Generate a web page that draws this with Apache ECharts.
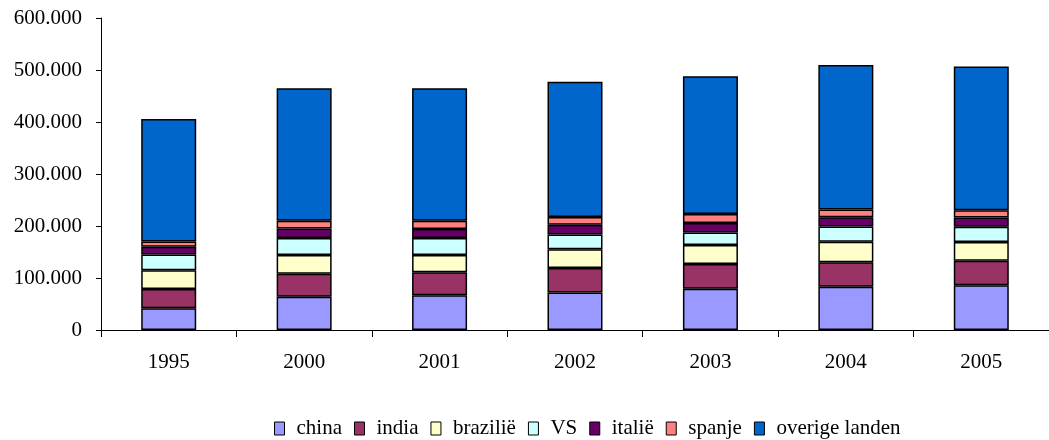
<!DOCTYPE html>
<html>
<head>
<meta charset="utf-8">
<script src="https://cdn.jsdelivr.net/npm/echarts@6/dist/echarts.min.js"></script>
<style>
html,body{margin:0;padding:0;background:#fff;}
#chart{width:1049px;height:440px;}
</style>
</head>
<body>
<div id="chart"></div>
<script>
const years = ['1995', '2000', '2001', '2002', '2003', '2004', '2005'];
const china   = [42000, 64000, 67000, 72000, 79500, 83000, 86000];
const india   = [37000, 44000, 44000, 47000, 47500, 47500, 47000];
const brazilie = [36000, 36000, 33000, 36500, 36500, 39000, 36000];
const vs      = [30000, 33000, 33000, 28000, 24000, 29500, 29500];
const italie  = [15000, 18000, 17000, 19000, 18500, 18000, 18000];
const spanje  = [10000, 15000, 16000, 15000, 17000, 14500, 14000];
const overige = [236000, 255000, 255000, 260000, 265000, 278000, 276000];

const seriesNames = ['china', 'india', 'brazilië', 'VS', 'italië', 'spanje', 'overige landen'];
const seriesData = [china, india, brazilie, vs, italie, spanje, overige];
const colors = ['#9999FF', '#993366', '#FFFFCC', '#CCFFFF', '#660066', '#FF8080', '#0066CC'];

const font = 'Liberation Serif';
const chart = echarts.init(document.getElementById('chart'), null, {renderer: 'canvas'});

chart.setOption({
  animation: false,
  color: colors,
  textStyle: {fontFamily: font},
  grid: {left: 101, top: 18, bottom: 110, right: -10, containLabel: false},
  legend: {
    left: 269,
    top: 413,
    itemWidth: 10,
    itemHeight: 13,
    itemGap: 12,
    icon: 'rect',
    itemStyle: {borderColor: '#000', borderWidth: 1},
    textStyle: {fontFamily: font, fontSize: 21, color: '#000', padding: [0, 0, 0, 7]},
    data: seriesNames
  },
  xAxis: {
    type: 'category',
    data: years,
    boundaryGap: true,
    axisLine: {lineStyle: {color: '#000', width: 1}},
    axisTick: {show: true, length: 7, lineStyle: {color: '#000'}},
    axisLabel: {color: '#000', fontFamily: font, fontSize: 21, margin: 22}
  },
  yAxis: {
    type: 'value',
    min: 0,
    max: 600000,
    interval: 100000,
    axisLine: {show: true, lineStyle: {color: '#000', width: 1}},
    axisTick: {show: true, length: 5, lineStyle: {color: '#000'}},
    splitLine: {show: false},
    axisLabel: {
      color: '#000', fontFamily: font, fontSize: 21, margin: 19,
      formatter: function (v) { return v === 0 ? '0' : (v / 1000) + '.000'; }
    }
  },
  series: seriesNames.map(function (name, i) {
    return {
      name: name,
      type: 'bar',
      stack: 'total',
      barWidth: 55,
      data: seriesData[i],
      itemStyle: {color: colors[i], borderColor: '#000', borderWidth: 1.5}
    };
  })
});
</script>
</body>
</html>
